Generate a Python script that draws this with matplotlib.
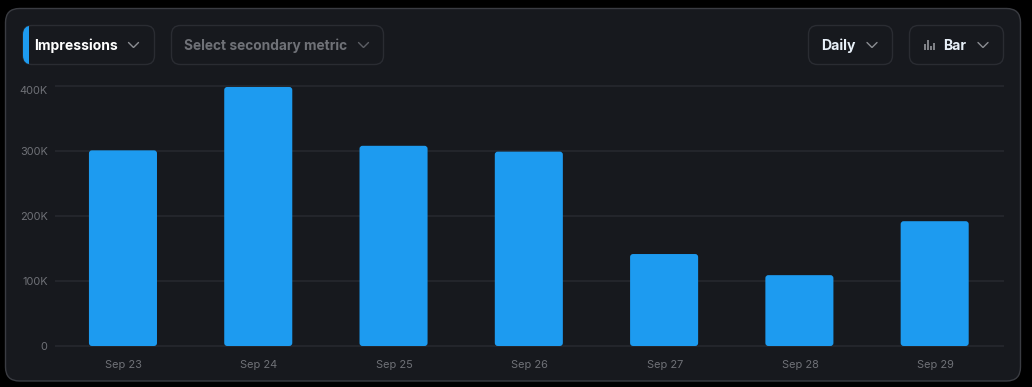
import matplotlib
matplotlib.use("Agg")
import matplotlib.pyplot as plt
from matplotlib.patches import FancyBboxPatch, Rectangle

plt.rcParams["font.family"] = ["Inter", "DejaVu Sans"]

days = ["Sep 23", "Sep 24", "Sep 25", "Sep 26", "Sep 27", "Sep 28", "Sep 29"]
impressions = [301, 398.5, 308, 299, 141.5, 109, 192]
y_ticks = [0, 100, 200, 300, 400]
y_labels = ["0", "100K", "200K", "300K", "400K"]

W, H = 1032, 387
BLUE = "#1d9bf0"
PANEL = "#17191e"
EDGE = "#2a2c32"
GRID = "#23252b"
MUTED = "#6f7177"

fig = plt.figure(figsize=(W / 100, H / 100), dpi=100, facecolor="black")

# overlay in pixel coords for the card and the dropdowns
ui = fig.add_axes([0, 0, 1, 1], zorder=0)
ui.set_xlim(0, W)
ui.set_ylim(H, 0)
ui.axis("off")


def rounded(x0, y0, x1, y1, r, fc, ec, lw=1):
    p = FancyBboxPatch((x0, y0), x1 - x0, y1 - y0, boxstyle=f"round,pad=0,rounding_size={r}",
                       fc=fc, ec=ec, lw=lw)
    ui.add_patch(p)
    return p


def chevron(cx, cy, color):
    ui.plot([cx - 5, cx, cx + 5], [cy - 2.5, cy + 2.5, cy - 2.5], color=color, lw=1,
            solid_capstyle="round", solid_joinstyle="miter")


rounded(5.5, 8.5, 1020.5, 381, 14, PANEL, "#3a3c42")

pill1 = rounded(23, 25.5, 154.5, 64.5, 9, PANEL, EDGE)
stripe = Rectangle((23, 25), 6, 40, fc=BLUE, ec="none")
ui.add_patch(stripe)
stripe.set_clip_path(pill1)
rounded(171.5, 25.5, 383.5, 64.5, 9, PANEL, EDGE)
rounded(808.5, 25.5, 892.5, 64.5, 9, PANEL, EDGE)
rounded(909.5, 25.5, 1003.5, 64.5, 9, PANEL, EDGE)

ui.text(34.5, 46, "Impressions", color="white", fontsize=10, fontweight="bold", va="center")
chevron(133.5, 45, "#8b8d92")
ui.text(184, 46, "Select secondary metric", color=MUTED, fontsize=9.9, fontweight="bold", va="center")
chevron(363.5, 45, "#5c5e64")
ui.text(821.5, 46, "Daily", color="#e8f0f8", fontsize=10.1, fontweight="bold", va="center")
chevron(872, 45, "#8b8d92")
ui.text(943, 46, "Bar", color="#e8f0f8", fontsize=10.1, fontweight="bold", va="center")
chevron(983, 45, "#8b8d92")
# little bar glyph in the chart type button
for ix, top in zip([925, 928, 931, 934], [44, 40, 46, 43]):
    ui.plot([ix, ix], [top, 50], color="#8b8d92", lw=1.3, solid_capstyle="butt")

# chart
ax = fig.add_axes([56 / W, 1 - 346 / H, 947 / W, 260 / H], zorder=1)
ax.patch.set_alpha(0)
ax.set_xlim(-0.5, 6.5)
ax.set_ylim(0, 400)
for s in ax.spines.values():
    s.set_visible(False)

ax.set_yticks(y_ticks, y_labels)
ax.set_xticks(range(len(days)), days)
ax.tick_params(axis="both", length=0, labelsize=7.9, labelcolor=MUTED)
ax.tick_params(axis="y", pad=6)
ax.tick_params(axis="x", pad=10)
ax.get_yticklabels()[-1].set_va("top")
ax.grid(axis="y", color=GRID, lw=1.5)
ax.set_axisbelow(True)
for line in ax.get_ygridlines():
    line.set_clip_on(False)

# rounded bars: x unit is 135.3px, y unit is 0.65px
bar_w = 0.503
for i, v in enumerate(impressions):
    ax.add_patch(FancyBboxPatch((i - bar_w / 2 - 0.005, 0), bar_w, v,
                                boxstyle="round,pad=0,rounding_size=0.022",
                                mutation_aspect=208, fc=BLUE, ec="none", zorder=3))

fig.savefig("out.png", dpi=100, facecolor=fig.get_facecolor())
